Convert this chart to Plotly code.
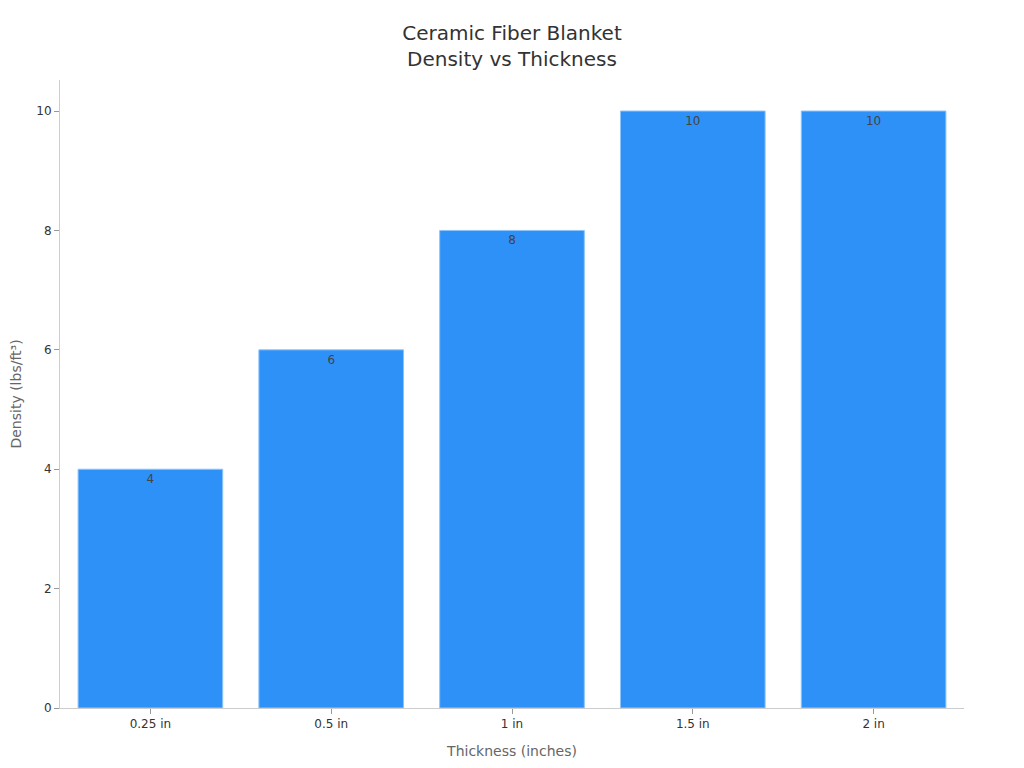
import plotly.graph_objects as go

thickness = ["0.25 in", "0.5 in", "1 in", "1.5 in", "2 in"]
density = [4, 6, 8, 10, 10]

fig = go.Figure()
fig.add_trace(go.Bar(
    x=thickness,
    y=density,
    text=[str(v) for v in density],
    textposition="inside",
    insidetextanchor="end",
    textfont=dict(color="#444444", size=12),
    marker=dict(color="#2E91F8", line=dict(color="#8cc4fb", width=1)),
    width=0.8,
))

# page body has an 8px margin, so margins are shifted to line up with the reference
fig.update_layout(
    width=1024, height=768,
    font=dict(family="DejaVu Sans", size=12, color="#333333"),
    title=dict(text="Ceramic Fiber Blanket<br>Density vs Thickness",
               x=504 / 1024, xanchor="center", y=0.9585, yanchor="middle",
               font=dict(size=20, color="#333333")),
    plot_bgcolor="white", paper_bgcolor="white",
    margin=dict(l=52, r=68, t=72, b=68),
    showlegend=False,
    xaxis=dict(
        title=dict(text="Thickness (inches)", font=dict(size=14, color="#666666"), standoff=15),
        showline=True, linecolor="#cccccc", ticks="outside", ticklen=5,
        tickcolor="#999999", showgrid=False, automargin=False,
    ),
    yaxis=dict(
        range=[0, 10.52], dtick=2, showline=True, linecolor="#cccccc",
        ticks="outside", ticklen=5, tickcolor="#999999", showgrid=False,
        zeroline=False, automargin=False,
    ),
)

# y title as an annotation so it can sit closer to the page edge
fig.add_annotation(
    text="Density (lbs/ft³)", textangle=-90,
    xref="paper", yref="paper", x=-0.0492, y=0.5,
    xanchor="center", yanchor="middle", showarrow=False,
    font=dict(size=14, color="#666666"),
)

fig.write_html("out.html")
